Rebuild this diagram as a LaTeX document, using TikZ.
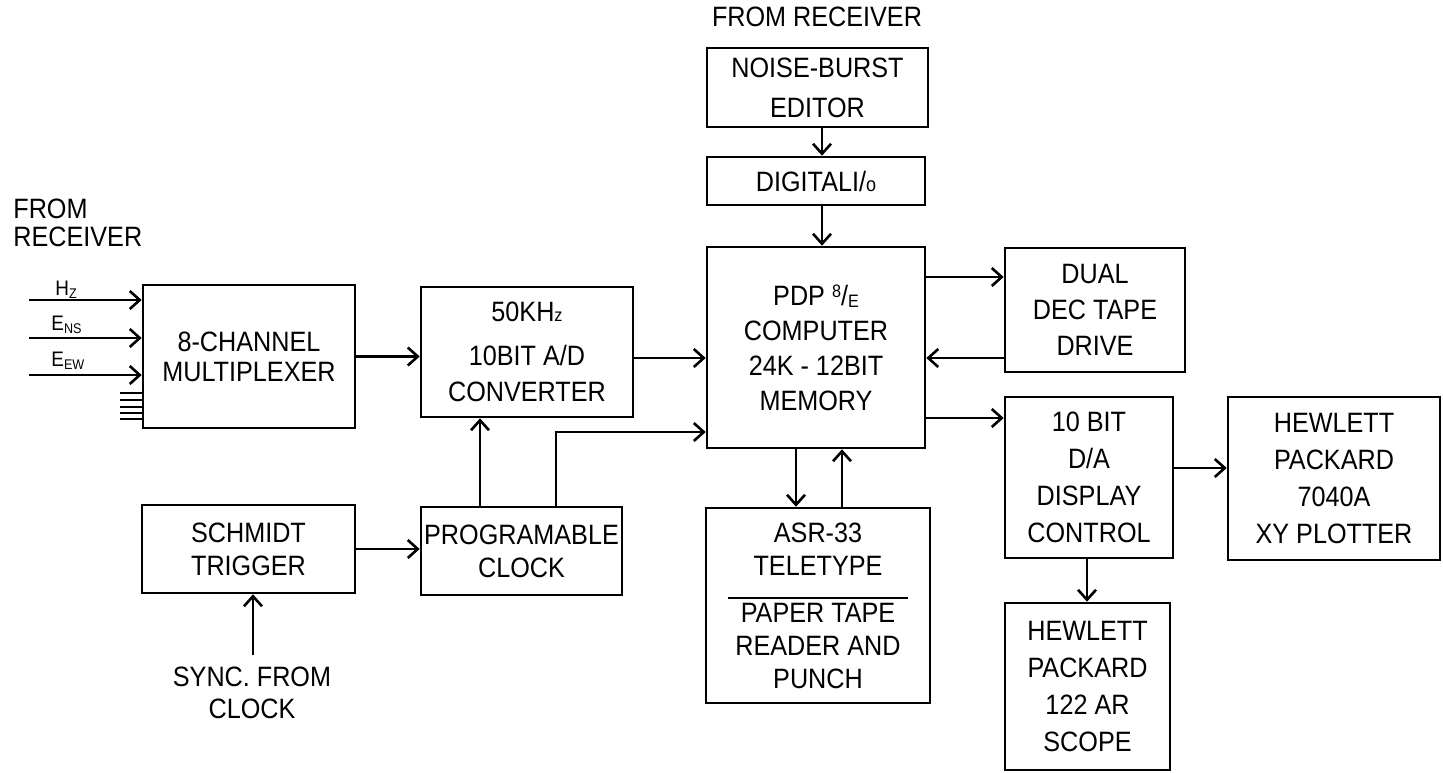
\documentclass[tikz,border=0pt]{standalone}
\usepackage{fontspec}
\setmainfont{Liberation Sans}[FakeStretch=0.9]
\usetikzlibrary{arrows.meta}
\tikzset{
  box/.style={draw, line width=1.3pt, inner sep=0pt, align=center, font=\fontsize{14}{18}\selectfont},
  txt/.style={inner sep=0pt, align=center, font=\fontsize{14}{18}\selectfont},
  lab/.style={inner sep=0pt, font=\fontsize{10.5}{10.5}\selectfont},
  ln/.style={line width=1.3pt},
  arr/.style={line width=1.3pt, -{Straight Barb[length=5pt,width=9pt,line width=1.3pt]}},
}
\newcommand\subs[1]{\raisebox{-1.5pt}{\fontsize{7}{7}\selectfont #1}}
\begin{document}
\begin{tikzpicture}[x=0.5pt,y=-0.5pt]
\useasboundingbox (0,0) rectangle (1443,772);

% boxes
\node[box, minimum width=106pt, minimum height=71.5pt, font=\fontsize{14}{15}\selectfont] (mux) at (249,356.5) {8-CHANNEL\\MULTIPLEXER};
\node[box, minimum width=106pt, minimum height=65pt] (adc) at (527,352) {50KH{\fontsize{9}{9}\selectfont z}\\[4pt]10BIT A/D\\CONVERTER};
\node[box, minimum width=100.5pt, minimum height=44pt, font=\fontsize{14}{16.5}\selectfont] (clk) at (521.5,551) {PROGRAMABLE\\CLOCK};
\node[box, minimum width=106.5pt, minimum height=44pt, font=\fontsize{14}{16.5}\selectfont] (sch) at (248.5,549) {SCHMIDT\\TRIGGER};
\node[box, minimum width=110.5pt, minimum height=39.5pt, font=\fontsize{14}{20}\selectfont] (nbe) at (817.5,87.5) {NOISE-BURST\\EDITOR};
\node[box, minimum width=109pt, minimum height=24pt] (dio) at (816,181) {DIGITALI/{\fontsize{10}{10}\selectfont o}};
\node[box, minimum width=109pt, minimum height=100.5pt, font=\fontsize{14}{17.5}\selectfont] (pdp) at (816,347.5) {PDP \raisebox{4pt}{\fontsize{9}{9}\selectfont 8}/\raisebox{-1pt}{\fontsize{9}{9}\selectfont E}\\COMPUTER\\24K - 12BIT\\MEMORY};
\node[box, minimum width=90pt, minimum height=62pt] (dec) at (1095,310) {DUAL\\DEC TAPE\\DRIVE};
\node[box, minimum width=84pt, minimum height=80.5pt, font=\fontsize{14}{18.5}\selectfont] (dac) at (1089,477.5) {10 BIT\\D/A\\DISPLAY\\CONTROL};
\node[box, minimum width=106pt, minimum height=81.5pt, font=\fontsize{14}{18.5}\selectfont] (hpx) at (1334,478.5) {HEWLETT\\PACKARD\\7040A\\XY PLOTTER};
\node[box, minimum width=82.5pt, minimum height=83.5pt, font=\fontsize{14}{18.5}\selectfont] (scope) at (1087.5,686.5) {HEWLETT\\PACKARD\\122 AR\\SCOPE};
\node[box, minimum width=112pt, minimum height=97.5pt, font=\fontsize{14}{16.5}\selectfont] (tty) at (818,605.5) {ASR-33\\TELETYPE\\[7pt]PAPER TAPE\\READER AND\\PUNCH};
\draw[ln] (728,598) -- (908,598);

% free texts
\node[txt, anchor=north west, align=left, font=\fontsize{14}{14}\selectfont] (fr1) at (13,199) {FROM\\RECEIVER};
\node[txt] (fr2) at (817,17) {FROM RECEIVER};
\node[txt, font=\fontsize{14}{16}\selectfont] (sync) at (252,693) {SYNC. FROM\\CLOCK};

% inputs
\coordinate (in1) at (29,300);
\coordinate (in2) at (29,338);
\coordinate (in3) at (29,375);
\draw[arr] (in1) -- (in1 -| mux.west);
\draw[arr] (in2) -- (in2 -| mux.west);
\draw[arr] (in3) -- (in3 -| mux.west);
\node[lab, anchor=base west] (lhz) at (55,295) {H\subs{Z}};
\node[lab, anchor=base west] (lns) at (51,330) {E\subs{NS}};
\node[lab, anchor=base west] (lew) at (51,366) {E\subs{EW}};
\foreach \y in {393,400,407,413,419} {
  \coordinate (h) at (120,\y);
  \draw[line width=1.2pt] (h) -- (h -| mux.west);
}

% connectors
\draw[arr] (mux.east) -- (mux.east -| adc.west);
\coordinate (a1) at (0,358);
\draw[arr] (a1 -| adc.east) -- (a1 -| pdp.west);
\coordinate (c1) at (480,0);
\draw[arr] (c1 |- clk.north) -- (c1 |- adc.south);
\coordinate (c2) at (556,432);
\draw[arr] (c2 |- clk.north) -- (c2) -- (c2 -| pdp.west);
\draw[arr] (sch.east) -- (sch.east -| clk.west);
\coordinate (s1) at (253,655);
\draw[arr] (s1) -- (s1 |- sch.south);
\coordinate (v1) at (822,0);
\draw[arr] (v1 |- nbe.south) -- (v1 |- dio.north);
\draw[arr] (v1 |- dio.south) -- (v1 |- pdp.north);
\coordinate (p1) at (0,277);
\draw[arr] (p1 -| pdp.east) -- (p1 -| dec.west);
\coordinate (p2) at (0,358);
\draw[arr] (p2 -| dec.west) -- (p2 -| pdp.east);
\coordinate (p3) at (0,418);
\draw[arr] (p3 -| pdp.east) -- (p3 -| dac.west);
\coordinate (p4) at (0,468);
\draw[arr] (p4 -| dac.east) -- (p4 -| hpx.west);
\coordinate (p5) at (1087,0);
\draw[arr] (p5 |- dac.south) -- (p5 |- scope.north);
\coordinate (t1) at (796,0);
\draw[arr] (t1 |- pdp.south) -- (t1 |- tty.north);
\coordinate (t2) at (842,0);
\draw[arr] (t2 |- tty.north) -- (t2 |- pdp.south);
\end{tikzpicture}
\end{document}
